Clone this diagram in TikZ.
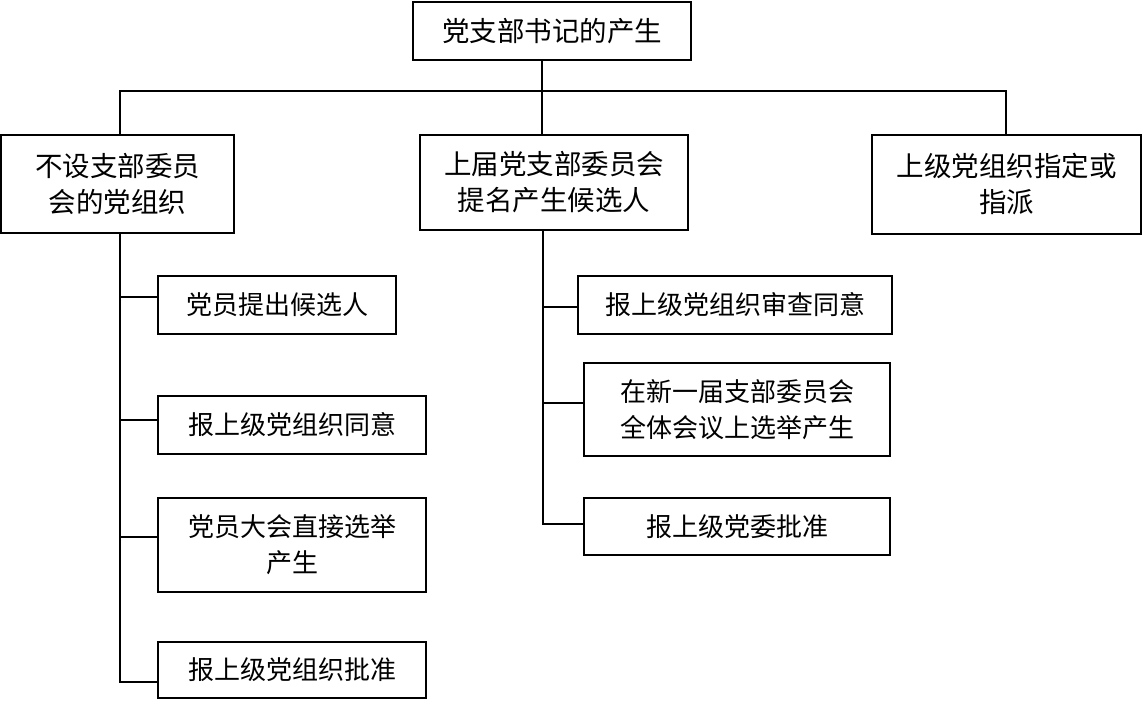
\documentclass[tikz,border=0pt]{standalone}
\usepackage{fontspec}
\setmainfont{Noto Sans CJK SC}
\begin{document}
\begin{tikzpicture}[x=1pt,y=-1pt,
  box/.style={draw, line width=2pt, inner sep=0pt, outer sep=0pt, align=center,
    font=\fontsize{26}{36}\selectfont},
  bigbox/.style={box, font=\fontsize{27.5}{36}\selectfont},
  conn/.style={line width=2pt}]
\useasboundingbox (0,0) rectangle (1148,704);
% main boxes
\node[bigbox, minimum width=278pt, minimum height=58pt] (top) at (552,31) {党支部书记的产生};
\node[bigbox, minimum width=233pt, minimum height=98pt] (L) at (117.5,184) {不设支部委员\\会的党组织};
\node[bigbox, minimum width=268pt, minimum height=95pt] (M) at (554,182.5) {上届党支部委员会\\提名产生候选人};
\node[bigbox, minimum width=269pt, minimum height=99pt] (R) at (1006.5,184.5) {上级党组织指定或\\指派};
% left children
\node[box, minimum width=238pt, minimum height=58pt] (L1) at (277,305) {党员提出候选人};
\node[box, minimum width=268pt, minimum height=58pt] (L2) at (292,425) {报上级党组织同意};
\node[box, minimum width=268pt, minimum height=94pt] (L3) at (292,545) {党员大会直接选举\\产生};
\node[box, minimum width=268pt, minimum height=56pt] (L4) at (292,670) {报上级党组织批准};
% middle children
\node[box, minimum width=314pt, minimum height=58pt] (M1) at (735,305) {报上级党组织审查同意};
\node[box, minimum width=306pt, minimum height=93pt] (M2) at (737,409.5) {在新一届支部委员会\\全体会议上选举产生};
\node[box, minimum width=306pt, minimum height=57pt] (M3) at (737,526.5) {报上级党委批准};
% junctions
\coordinate (bL) at (120,91);
\coordinate (bM) at (542,91);
\coordinate (bR) at (1006,91);
\coordinate (l1) at (120,297);
\coordinate (l2) at (120,420);
\coordinate (l3) at (120,537);
\coordinate (l4) at (120,682);
\coordinate (m1) at (543,307);
\coordinate (m2) at (543,403);
\coordinate (m3) at (543,524);
% connectors
\draw[conn] (top.south -| bM) -- (M.north -| bM);
\draw[conn] (L.north -| bL) -- (bL) -- (bR) -- (R.north -| bR);
\draw[conn] (L.south -| l1) -- (l4) -- (L4.west |- l4);
\draw[conn] (l1) -- (L1.west |- l1);
\draw[conn] (l2) -- (L2.west |- l2);
\draw[conn] (l3) -- (L3.west |- l3);
\draw[conn] (M.south -| m1) -- (m3) -- (M3.west |- m3);
\draw[conn] (m1) -- (M1.west |- m1);
\draw[conn] (m2) -- (M2.west |- m2);
\end{tikzpicture}
\end{document}
